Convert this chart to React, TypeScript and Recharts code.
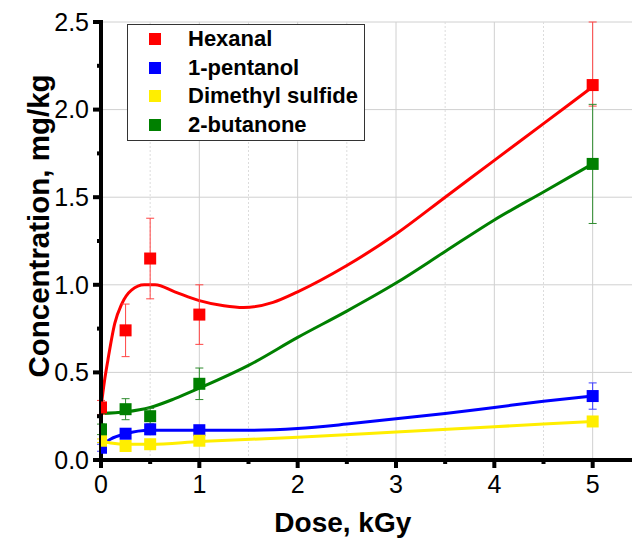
import React from "react";
import {
  ComposedChart,
  Line,
  Scatter,
  ErrorBar,
  XAxis,
  YAxis,
  ReferenceLine,
  Legend,
} from "recharts";

const FONT = "'Liberation Sans', Arial, sans-serif";

// measured points
const doses = [0, 0.25, 0.5, 1, 5];

const hexanal = [0.3, 0.74, 1.15, 0.83, 2.14];
const hexanalErrLow = [0.04, 0.15, 0.23, 0.17, 0.12];
const hexanalErrHigh = [0.04, 0.15, 0.23, 0.17, 0.36];
const pentanol = [0.07, 0.15, 0.175, 0.17, 0.365];
const pentanolErr = [0.02, 0.02, 0.03, 0.02, 0.075];
const dms = [0.11, 0.08, 0.09, 0.11, 0.22];
const dmsErr = [0.01, 0.02, 0.01, 0.02, 0.02];
const butanone = [0.175, 0.29, 0.25, 0.435, 1.69];
const butanoneErr = [0.03, 0.06, 0.045, 0.09, 0.34];

// fitted curves
const hexanalFitX = [0, 0.035, 0.07, 0.14, 0.21, 0.31, 0.44, 0.55, 0.75, 1, 1.25, 1.45, 1.75, 2, 2.5, 3, 3.5, 4, 4.5, 5];
const hexanalFitY = [0.3, 0.45, 0.57, 0.78, 0.89, 0.97, 1.0, 1.0, 0.96, 0.91, 0.88, 0.87, 0.9, 0.96, 1.11, 1.29, 1.5, 1.71, 1.92, 2.13];
const pentanolFitX = [0, 0.1, 0.25, 0.5, 1, 1.5, 2, 2.5, 3, 3.5, 4, 4.5, 5];
const pentanolFitY = [0.08, 0.12, 0.15, 0.17, 0.17, 0.17, 0.18, 0.205, 0.235, 0.265, 0.3, 0.335, 0.365];
const dmsFitX = [0, 0.12, 0.25, 0.5, 1, 2, 3, 4, 5];
const dmsFitY = [0.11, 0.095, 0.09, 0.09, 0.105, 0.13, 0.16, 0.19, 0.22];
const butanoneFitX = [0, 0.25, 0.5, 0.75, 1, 1.5, 2, 2.5, 3, 3.5, 4, 4.5, 5];
const butanoneFitY = [0.265, 0.275, 0.3, 0.35, 0.41, 0.54, 0.7, 0.85, 1.01, 1.19, 1.37, 1.53, 1.69];

const seriesNames = ["Hexanal", "1-pentanol", "Dimethyl sulfide", "2-butanone"];
const seriesColors = ["#ff0000", "#0000ff", "#ffee00", "#008000"];
const errColors = ["#ff4545", "#3a3aff", "#f0dc00", "#2e8b2e"];

const xTicks = [0, 0.5, 1, 1.5, 2, 2.5, 3, 3.5, 4, 4.5, 5];
const yTicks = [0, 0.25, 0.5, 0.75, 1, 1.25, 1.5, 1.75, 2, 2.25, 2.5];
const gridY = [0.5, 1, 1.5, 2, 2.5];
const gridXMajor = [1, 2, 3, 4, 5];
const gridXMinor = [0.5, 1.5, 2.5, 3.5, 4.5];

const toLine = (xs: number[], ys: number[]) => xs.map((x, i) => ({ x, y: ys[i] }));
const toMarks = (ys: number[], low: number[], high: number[]) =>
  doses.map((x, i) => ({ x, y: ys[i], err: [low[i], high[i]] }));

const marks = [
  toMarks(hexanal, hexanalErrLow, hexanalErrHigh),
  toMarks(pentanol, pentanolErr, pentanolErr),
  toMarks(dms, dmsErr, dmsErr),
  toMarks(butanone, butanoneErr, butanoneErr),
];
const fits = [
  toLine(hexanalFitX, hexanalFitY),
  toLine(pentanolFitX, pentanolFitY),
  toLine(dmsFitX, dmsFitY),
  toLine(butanoneFitX, butanoneFitY),
];

const Y_GAP = 12;
const X_GAP = 15;

const isWhole = (v: number, step: number) => Math.abs(v / step - Math.round(v / step)) < 1e-6;

const YTick = (props: any) => {
  const { x, y, payload } = props;
  const major = isWhole(payload.value, 0.5);
  const ax = x + Y_GAP;
  return (
    <g>
      <line x1={ax - (major ? 8 : 4)} x2={ax} y1={y} y2={y} stroke="#000" strokeWidth={4} />
      {major && (
        <text x={x} y={y} dy="0.355em" textAnchor="end" fontSize={25} fontFamily={FONT} fill="#000">
          {payload.value.toFixed(1)}
        </text>
      )}
    </g>
  );
};

const XTick = (props: any) => {
  const { x, y, payload } = props;
  const major = isWhole(payload.value, 1);
  const ay = y - X_GAP;
  return (
    <g>
      <line x1={x} x2={x} y1={ay} y2={ay + (major ? 8 : 4)} stroke="#000" strokeWidth={4} />
      {major && (
        <text x={x} y={y} dy="0.71em" textAnchor="middle" fontSize={25} fontFamily={FONT} fill="#000">
          {payload.value}
        </text>
      )}
    </g>
  );
};

const Square = (props: any) => {
  const { cx, cy, fill } = props;
  return <rect x={cx - 6} y={cy - 6} width={12} height={12} fill={fill} />;
};

const LegendBox = () => (
  <div
    style={{
      border: "1px solid #333",
      background: "#fff",
      boxSizing: "border-box",
      width: 238,
      height: 117,
      fontFamily: FONT,
    }}
  >
    {seriesNames.map((name, i) => (
      <div
        key={name}
        style={{ display: "flex", alignItems: "center", height: 28.6, paddingLeft: 21 }}
      >
        <span style={{ width: 12, height: 12, background: seriesColors[i], display: "inline-block" }} />
        <span style={{ marginLeft: 27, fontSize: 22, fontWeight: 700, color: "#000" }}>{name}</span>
      </div>
    ))}
  </div>
);

export default function App() {
  return (
    <div>
      <style>{"body{margin:0}"}</style>
      <ComposedChart width={632} height={540} margin={{ top: 22, right: 0, bottom: 0, left: 0 }}>
        {gridY.map((v) => (
          <ReferenceLine key={"gy" + v} y={v} stroke="#d0d0d0" strokeWidth={1} />
        ))}
        {gridXMajor.map((v) => (
          <ReferenceLine key={"gx" + v} x={v} stroke="#d0d0d0" strokeWidth={1} />
        ))}
        {gridXMinor.map((v) => (
          <ReferenceLine key={"gm" + v} x={v} stroke="#dcdcdc" strokeWidth={1} strokeDasharray="2 2" />
        ))}
        {fits.map((d, i) => (
          <Line
            key={"fit" + i}
            data={d}
            dataKey="y"
            type="monotone"
            stroke={seriesColors[i]}
            strokeWidth={3}
            dot={false}
            activeDot={false}
            legendType="none"
            isAnimationActive={false}
          />
        ))}
        {marks.map((d, i) => (
          <Scatter
            key={"pts" + i}
            name={seriesNames[i]}
            data={d}
            dataKey="y"
            fill={seriesColors[i]}
            shape={Square}
            isAnimationActive={false}
          >
            <ErrorBar
              dataKey="err"
              direction="y"
              width={4}
              stroke={errColors[i]}
              strokeWidth={1}
              isAnimationActive={false}
            />
          </Scatter>
        ))}
        <XAxis
          dataKey="x"
          type="number"
          domain={[0, 5.4]}
          allowDataOverflow
          ticks={xTicks}
          interval={0}
          height={80}
          tickSize={0}
          tickMargin={X_GAP}
          tick={XTick}
          axisLine={{ stroke: "#000", strokeWidth: 4, strokeLinecap: "square" }}
          label={{
            value: "Dose, kGy",
            content: (p: any) => {
              const vb = p.viewBox;
              return (
                <text
                  x={vb.x + (vb.width * 2.5) / 5.4 - 4}
                  y={532}
                  textAnchor="middle"
                  fontSize={28}
                  fontWeight={700}
                  fontFamily={FONT}
                  fill="#000"
                >
                  Dose, kGy
                </text>
              );
            },
          }}
        />
        <YAxis
          dataKey="y"
          type="number"
          domain={[0, 2.5]}
          allowDataOverflow
          ticks={yTicks}
          interval={0}
          width={101}
          tickSize={0}
          tickMargin={Y_GAP}
          tick={YTick}
          axisLine={{ stroke: "#000", strokeWidth: 4, strokeLinecap: "square" }}
          label={{
            value: "Concentration, mg/kg",
            content: () => (
              <text
                x={49}
                y={226}
                transform="rotate(-90, 49, 226)"
                textAnchor="middle"
                fontSize={29.5}
                fontWeight={700}
                fontFamily={FONT}
                fill="#000"
              >
                Concentration, mg/kg
              </text>
            ),
          }}
        />
        <Legend
          layout="horizontal"
          verticalAlign="middle"
          align="center"
          content={<LegendBox />}
          wrapperStyle={{ left: 127, top: 24, width: 238, height: 117 }}
        />
      </ComposedChart>
    </div>
  );
}
